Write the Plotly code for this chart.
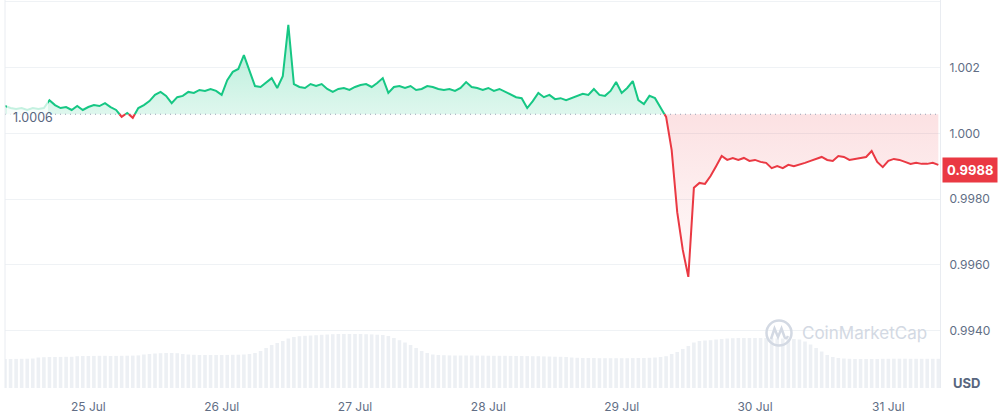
import plotly.graph_objects as go
import pandas as pd

# ---------------- data ----------------
start_time = "2024-07-24 09:00"
n_hours = 169
times = pd.date_range(start_time, periods=n_hours, freq="h")

price = [
    1.00083, 1.00077, 1.00074, 1.00077, 1.00071, 1.00077, 1.00074, 1.00077, 1.00101, 1.00086,
    1.00077, 1.00080, 1.00071, 1.00083, 1.00071, 1.00080, 1.00086, 1.00083, 1.00092, 1.00080,
    1.00071, 1.00050, 1.00062, 1.00047, 1.00077, 1.00086, 1.00098, 1.00117, 1.00126, 1.00114,
    1.00092, 1.00110, 1.00114, 1.00126, 1.00123, 1.00132, 1.00129, 1.00135, 1.00129, 1.00117,
    1.00162, 1.00187, 1.00196, 1.00238, 1.00193, 1.00144, 1.00141, 1.00156, 1.00168, 1.00138,
    1.00174, 1.00330, 1.00150, 1.00141, 1.00138, 1.00150, 1.00144, 1.00150, 1.00135, 1.00126,
    1.00135, 1.00138, 1.00132, 1.00141, 1.00147, 1.00150, 1.00141, 1.00153, 1.00168, 1.00123,
    1.00141, 1.00144, 1.00138, 1.00144, 1.00132, 1.00135, 1.00144, 1.00141, 1.00135, 1.00132,
    1.00135, 1.00129, 1.00138, 1.00156, 1.00141, 1.00138, 1.00132, 1.00138, 1.00129, 1.00135,
    1.00126, 1.00117, 1.00110, 1.00107, 1.00077, 1.00098, 1.00123, 1.00110, 1.00117, 1.00104,
    1.00107, 1.00101, 1.00107, 1.00114, 1.00120, 1.00117, 1.00135, 1.00117, 1.00114, 1.00129,
    1.00156, 1.00123, 1.00138, 1.00159, 1.00101, 1.00089, 1.00114, 1.00107, 1.00077, 1.00050,
    0.99949, 0.99760, 0.99645, 0.99563, 0.99834, 0.99849, 0.99846, 0.99870, 0.99900, 0.99931,
    0.99919, 0.99925, 0.99919, 0.99925, 0.99916, 0.99919, 0.99913, 0.99910, 0.99894, 0.99900,
    0.99894, 0.99904, 0.99900, 0.99904, 0.99910, 0.99916, 0.99922, 0.99928, 0.99919, 0.99916,
    0.99931, 0.99928, 0.99919, 0.99922, 0.99925, 0.99928, 0.99946, 0.99913, 0.99897, 0.99916,
    0.99922, 0.99919, 0.99913, 0.99907, 0.99910, 0.99907, 0.99907, 0.99910, 0.99904,
]

volume_musd = [
    290, 290, 291, 292, 293, 295,
    305, 308, 310, 310, 311, 312, 312,
    318, 320, 320, 321, 322, 322, 320, 321, 322, 323, 324, 326,
    335, 340, 345, 348, 350, 350, 348,
    340, 335, 332, 330, 330, 330, 330, 330, 331, 332, 333, 335,
    340, 350, 370, 400, 430, 450, 470, 495,
    510, 518, 522, 525, 528,
    532, 535, 538, 540, 540, 540, 540, 540, 538, 536, 533, 530,
    520, 500, 478, 455, 430, 400, 370, 350,
    335, 330, 328, 326, 325, 325, 325, 325, 324, 324, 323, 322, 322,
    322, 321, 320, 320, 319, 318, 318, 316, 315, 313, 312, 310,
    305, 302, 300, 300, 300, 298, 298, 298, 298, 298, 298, 299, 300, 300, 302, 305, 310, 318,
    340, 360, 390, 420, 455,
    470, 475, 478,
    485, 490, 495, 498, 500, 500, 500, 500, 500, 500, 498, 496, 495, 493, 490,
    485, 465, 435, 400, 365, 330,
    310, 300, 295, 292, 290, 290, 290, 290, 290, 292, 292, 293, 293, 293, 292, 292, 292, 292, 292, 292,
]

base_price = 1.00058
base_label = "1.0006"
last_label = "0.9988"
last_label_level = 0.99888

ytick_vals = [0.994, 0.996, 0.998, 1.000, 1.002, 1.004]
ytick_text = ["0.9940", "0.9960", "0.9980", "1.000", "1.002", ""]
xtick_days = ["2024-07-25", "2024-07-26", "2024-07-27", "2024-07-28",
              "2024-07-29", "2024-07-30", "2024-07-31"]
xtick_text = ["25 Jul", "26 Jul", "27 Jul", "28 Jul", "29 Jul", "30 Jul", "31 Jul"]

x_range = ["2024-07-24 09:00", "2024-07-31 09:18"]
y_range = [0.992247, 1.004058]
vol_range = [0, 3880]

GREEN = "#16c784"
RED = "#ea3943"
GRID = "#eff2f5"
TXT = "#616e85"

n = min(len(times), len(price), len(volume_musd))
times = list(times[:n])
price = price[:n]
volume_musd = volume_musd[:n]

# ---- split series at crossings of the baseline ----
aug_t, aug_v = [], []
for i in range(n):
    if i > 0:
        v0, v1 = price[i - 1], price[i]
        if (v0 - base_price) * (v1 - base_price) < 0:
            f = (base_price - v0) / (v1 - v0)
            tc = times[i - 1] + (times[i] - times[i - 1]) * f
            aug_t.append(tc)
            aug_v.append(base_price)
    aug_t.append(times[i])
    aug_v.append(price[i])

green_line = [v if v >= base_price else None for v in aug_v]
red_line = [v if v <= base_price else None for v in aug_v]
green_fill = [max(v, base_price) for v in aug_v]
red_fill = [min(v, base_price) for v in aug_v]
base_line = [base_price] * len(aug_t)

fig = go.Figure()

fig.add_trace(go.Bar(x=times, y=volume_musd, marker=dict(color="#edf0f4", line=dict(width=0)),
                     yaxis="y", hoverinfo="skip"))

fig.add_trace(go.Scatter(x=aug_t, y=base_line, mode="lines", line=dict(width=0),
                         yaxis="y2", hoverinfo="skip"))
fig.add_trace(go.Scatter(x=aug_t, y=green_fill, mode="lines", line=dict(width=0), fill="tonexty",
                         fillgradient=dict(type="vertical",
                                           colorscale=[[0, "rgba(22,199,132,0.14)"],
                                                       [1, "rgba(22,199,132,0.34)"]],
                                           start=base_price, stop=max(price)),
                         yaxis="y2", hoverinfo="skip"))
fig.add_trace(go.Scatter(x=aug_t, y=base_line, mode="lines", line=dict(width=0),
                         yaxis="y2", hoverinfo="skip"))
fig.add_trace(go.Scatter(x=aug_t, y=red_fill, mode="lines", line=dict(width=0), fill="tonexty",
                         fillgradient=dict(type="vertical",
                                           colorscale=[[0, "rgba(234,57,67,0.02)"],
                                                       [1, "rgba(234,57,67,0.15)"]],
                                           start=min(price), stop=base_price),
                         yaxis="y2", hoverinfo="skip"))

fig.add_trace(go.Scatter(x=x_range, y=[base_price, base_price], mode="lines",
                         line=dict(color="#9aa1b5", width=1, dash="1px,4px"),
                         yaxis="y2", hoverinfo="skip"))

fig.add_trace(go.Scatter(x=aug_t, y=green_line, mode="lines", connectgaps=False,
                         line=dict(color=GREEN, width=2), yaxis="y2"))
fig.add_trace(go.Scatter(x=aug_t, y=red_line, mode="lines", connectgaps=False,
                         line=dict(color=RED, width=2), yaxis="y2"))

PL, PR, PT, PB = 5, 940, 0, 388
def px(x):
    return (x - PL) / (PR - PL)
def py(y):
    return (PB - y) / (PB - PT)

shapes = [
    dict(type="line", xref="paper", yref="paper", x0=0, x1=0, y0=0, y1=1,
         line=dict(color="#e9ecf1", width=1)),
    dict(type="rect", xref="paper", yref="paper", x0=px(7), x1=px(48), y0=py(126), y1=py(99),
         fillcolor="rgba(255,255,255,0.75)", line=dict(width=0), layer="above"),
    dict(type="circle", xref="paper", yref="paper", x0=px(766.5), x1=px(791.5),
         y0=py(345.5), y1=py(320.5), line=dict(color="#d3d9e3", width=2.5)),
    dict(type="path", xref="paper", yref="paper",
         path="M {} {} L {} {} L {} {} L {} {} L {} {} Q {} {} {} {}".format(
             px(771), py(339), px(774.5), py(328.5), px(778), py(337), px(781.5), py(328.5),
             px(784.5), py(337), px(786), py(340), px(788), py(336)),
         line=dict(color="#d3d9e3", width=2.5)),
]

annotations = [
    dict(text=base_label, xref="paper", yref="paper", x=px(11), y=py(117.5), xanchor="left",
         yanchor="middle", showarrow=False, font=dict(family="Inter", size=12.5, color="#58667e")),
    dict(text="<b>" + last_label + "</b>", xref="paper", yref="y2", x=1, xshift=2,
         y=last_label_level, xanchor="left", yanchor="middle", showarrow=False,
         bgcolor=RED, borderpad=4, font=dict(family="Inter", size=13, color="white")),
    dict(text="<b>USD</b>", xref="paper", yref="paper", x=px(967), y=py(383), xanchor="center",
         yanchor="middle", showarrow=False, font=dict(family="Inter", size=13, color="#58667e")),
    dict(text="CoinMarketCap", xref="paper", yref="paper", x=px(800), y=py(333), xanchor="left",
         yanchor="middle", showarrow=False, font=dict(family="Inter", size=17, color="#d3d9e3")),
]

fig.update_layout(
    width=1002, height=415,
    margin=dict(l=PL, r=1002 - PR, t=PT, b=415 - PB),
    paper_bgcolor="white", plot_bgcolor="white",
    showlegend=False, bargap=0.35,
    font=dict(family="Inter", color=TXT),
    xaxis=dict(range=x_range, tickvals=xtick_days, ticktext=xtick_text, showgrid=False,
               zeroline=False, showline=False, ticks="", ticklabelstandoff=10,
               tickfont=dict(family="Inter", size=12, color=TXT)),
    yaxis=dict(range=vol_range, visible=False, fixedrange=True),
    yaxis2=dict(range=y_range, overlaying="y", side="right", tickvals=ytick_vals,
                ticktext=ytick_text, showgrid=True, gridcolor=GRID, gridwidth=1,
                zeroline=False, showline=True, linecolor="#e9ecf1", linewidth=1,
                ticks="", ticklabelstandoff=6,
                tickfont=dict(family="Inter", size=12, color=TXT)),
    shapes=shapes,
    annotations=annotations,
)

fig.write_html(
    "out.html",
    config={"displayModeBar": False},
    post_script="document.body.style.margin='0';document.body.style.overflow='hidden';",
)
